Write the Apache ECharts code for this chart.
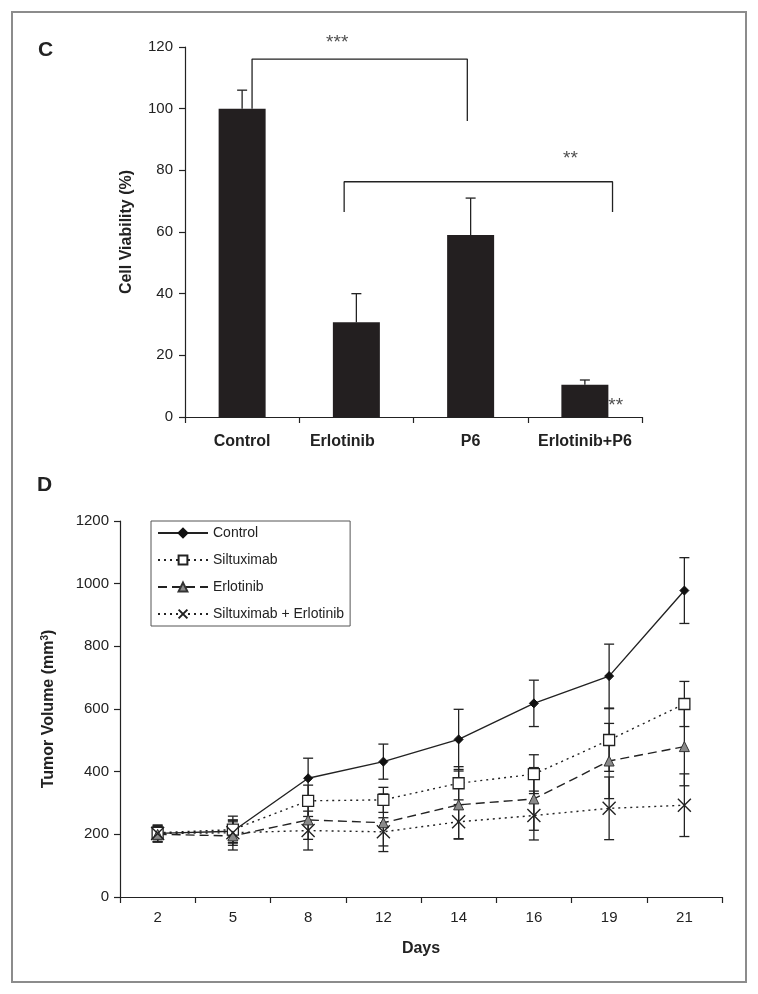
<!DOCTYPE html>
<html><head><meta charset="utf-8">
<script src="https://cdn.jsdelivr.net/npm/echarts@6/dist/echarts.min.js"></script>
<style>html,body{margin:0;padding:0;background:#fff}#c{width:758px;height:994px}</style>
</head><body><div id="c"></div>
<script>
// ---------- Panel C data ----------
const barCategories = ['Control', 'Erlotinib', 'P6', 'Erlotinib+P6'];
const barValues = [100, 30.7, 59, 10.5];
const barErrors = [6, 9.3, 12, 1.5];
// significance brackets, x in category units (0..4), y in %
const bracketA = [[0.587, 100], [0.587, 116.1], [2.471, 116.1], [2.471, 96]];
const bracketB = [[1.393, 66.5], [1.393, 76.3], [3.742, 76.3], [3.742, 66.5]];
const sigMarks = [[1.332, 121.4, '***'], [3.374, 83.8, '**'], [3.77, 3.8, '**']];

// ---------- Panel D data ----------
const days = ['2', '5', '8', '12', '14', '16', '19', '21'];
const control = [203, 210, 379, 432, 503, 618, 705, 978];
const controlErr = [27, 36, 64, 56, 96, 74, 102, 105];
const siltuximab = [205, 215, 307, 310, 363, 392, 501, 616];
const siltuximabErr = [20, 43, 50, 40, 53, 62, 100, 72];
const erlotinib = [200, 195, 246, 237, 294, 313, 434, 480];
const erlotinibErr = [25, 45, 62, 92, 108, 100, 120, 125];
const combo = [203, 205, 212, 208, 240, 260, 283, 293];
const comboErr = [25, 40, 62, 45, 55, 78, 100, 100];

const FONT = "'Liberation Sans', Arial, Helvetica, sans-serif";
const INK = '#222';

function errRender(capHalf, bothCaps) {
  return function (params, api) {
    const i = api.value(0);
    const top = api.coord([i, api.value(2)]);
    const bot = api.coord([i, api.value(1)]);
    const st = { stroke: INK, lineWidth: 1.3 };
    const ch = [
      { type: 'line', shape: { x1: top[0], y1: top[1], x2: bot[0], y2: bot[1] }, style: st },
      { type: 'line', shape: { x1: top[0] - capHalf, y1: top[1], x2: top[0] + capHalf, y2: top[1] }, style: st }
    ];
    if (bothCaps) ch.push({ type: 'line', shape: { x1: bot[0] - capHalf, y1: bot[1], x2: bot[0] + capHalf, y2: bot[1] }, style: st });
    return { type: 'group', children: ch };
  };
}
function errData(vals, errs) { return vals.map((v, i) => [i, v - errs[i], v + errs[i]]); }

const chart = echarts.init(document.getElementById('c'), null, { renderer: 'canvas' });

const lineDefs = [
  { name: 'Control', data: control, err: controlErr, symbol: 'diamond', size: 9,
    item: { color: '#111', borderColor: '#111', borderWidth: 1 }, line: { type: 'solid' } },
  { name: 'Siltuximab', data: siltuximab, err: siltuximabErr, symbol: 'rect', size: 11,
    item: { color: '#fff', borderColor: INK, borderWidth: 1.3 }, line: { type: [2, 4] } },
  { name: 'Erlotinib', data: erlotinib, err: erlotinibErr, symbol: 'triangle', size: 10,
    item: { color: '#8a8a8a', borderColor: '#333', borderWidth: 1 }, line: { type: [9, 5] } },
  { name: 'Siltuximab + Erlotinib', data: combo, err: comboErr, symbol: 'path://M0,0L10,10M10,0L0,10', size: 13,
    item: { color: INK, borderColor: INK, borderWidth: 1.4 }, line: { type: [2, 4] } }
];

const series = [
  { type: 'bar', xAxisIndex: 0, yAxisIndex: 0, data: barValues, barWidth: 47,
    itemStyle: { color: '#231f20' }, z: 2 },
  { type: 'custom', xAxisIndex: 0, yAxisIndex: 0, renderItem: errRender(5, false),
    data: barValues.map((v, i) => [i, v, v + barErrors[i]]), encode: { x: 0, y: [1, 2] }, z: 3 },
  { type: 'line', xAxisIndex: 1, yAxisIndex: 0, data: bracketA, symbol: 'none',
    lineStyle: { color: INK, width: 1.3 }, z: 3 },
  { type: 'line', xAxisIndex: 1, yAxisIndex: 0, data: bracketB, symbol: 'none',
    lineStyle: { color: INK, width: 1.3 }, z: 3 },
  { type: 'scatter', xAxisIndex: 1, yAxisIndex: 0, data: sigMarks, symbolSize: 1, clip: false,
    itemStyle: { color: 'rgba(0,0,0,0)' },
    label: { show: true, position: 'inside', formatter: p => p.value[2], fontSize: 19,
      color: INK, fontFamily: FONT }, z: 1 }
];
lineDefs.forEach((d, k) => {
  series.push({ type: 'custom', name: 'err' + k, xAxisIndex: 2, yAxisIndex: 1,
    renderItem: errRender(5, true), data: errData(d.data, d.err), encode: { x: 0, y: [1, 2] }, z: 2 });
});
lineDefs.forEach((d) => {
  series.push({ type: 'line', name: d.name, xAxisIndex: 2, yAxisIndex: 1, data: d.data,
    symbol: d.symbol, symbolSize: d.size, showAllSymbol: true, itemStyle: d.item,
    lineStyle: Object.assign({ color: INK, width: 1.4 }, d.line), z: 4 });
});

const axisLineSt = { show: true, lineStyle: { color: INK, width: 1.2 } };
const axisTickSt = { show: true, length: 6, lineStyle: { color: INK, width: 1.2 } };

const option = {
  animation: false,
  backgroundColor: '#fff',
  textStyle: { fontFamily: FONT },
  grid: [
    { left: 185, right: 116, top: 47, bottom: 577 },
    { left: 120, right: 36, top: 521, bottom: 97 }
  ],
  xAxis: [
    { type: 'category', gridIndex: 0,
      data: barCategories.map((c, i) => i === 1 ? { value: c, textStyle: { padding: [0, 28, 0, 0] } } : c),
      axisLine: axisLineSt, axisTick: axisTickSt,
      axisLabel: { interval: 0, hideOverlap: false, fontSize: 16, fontWeight: 'bold', color: INK, margin: 17, fontFamily: FONT } },
    { type: 'value', gridIndex: 0, min: 0, max: 4, show: false },
    { type: 'category', gridIndex: 1, data: days,
      axisLine: axisLineSt, axisTick: axisTickSt,
      axisLabel: { interval: 0, fontSize: 15, color: INK, margin: 13, fontFamily: FONT },
      name: 'Days', nameLocation: 'middle', nameGap: 44,
      nameTextStyle: { fontSize: 16, fontWeight: 'bold', color: INK, fontFamily: FONT } }
  ],
  yAxis: [
    { type: 'value', gridIndex: 0, min: 0, max: 120, interval: 20,
      axisLine: axisLineSt, axisTick: axisTickSt, splitLine: { show: false },
      axisLabel: { fontSize: 15, color: INK, margin: 12, fontFamily: FONT, formatter: v => String(v) },
      name: 'Cell Viability (%)', nameLocation: 'middle', nameGap: 50, nameRotate: 90,
      nameTextStyle: { fontSize: 16, fontWeight: 'bold', color: INK, fontFamily: FONT } },
    { type: 'value', gridIndex: 1, min: 0, max: 1200, interval: 200,
      axisLine: axisLineSt, axisTick: axisTickSt, splitLine: { show: false },
      axisLabel: { fontSize: 15, color: INK, margin: 11, fontFamily: FONT, formatter: v => String(v) },
      name: '{a|Tumor Volume (mm}{s|3}{a|)}', nameLocation: 'middle', nameGap: 62, nameRotate: 90,
      nameTextStyle: { color: INK, fontFamily: FONT,
        rich: { a: { fontSize: 16, fontWeight: 'bold', color: INK, fontFamily: FONT },
                s: { fontSize: 10, fontWeight: 'bold', color: INK, fontFamily: FONT, padding: [0, 0, 8, 0] } } } }
  ],
  legend: {
    data: lineDefs.map(d => d.name), orient: 'vertical', left: 151, top: 521,
    padding: [5, 6, 5, 6], itemWidth: 50, itemHeight: 11, itemGap: 13,
    borderColor: '#555', borderWidth: 1, backgroundColor: '#fff',
    textStyle: { fontSize: 14, color: INK, fontFamily: FONT },
    selectedMode: false
  },
  graphic: [
    { type: 'rect', shape: { x: 12, y: 12, width: 734, height: 970 },
      style: { fill: 'none', stroke: '#8c8c8c', lineWidth: 2 }, silent: true },
    { type: 'text', left: 38, top: 40, style: { text: 'C', font: "bold 21px " + FONT, fill: INK } },
    { type: 'text', left: 37, top: 475, style: { text: 'D', font: "bold 21px " + FONT, fill: INK } }
  ],
  series: series
};
chart.setOption(option);
</script>
</body></html>
